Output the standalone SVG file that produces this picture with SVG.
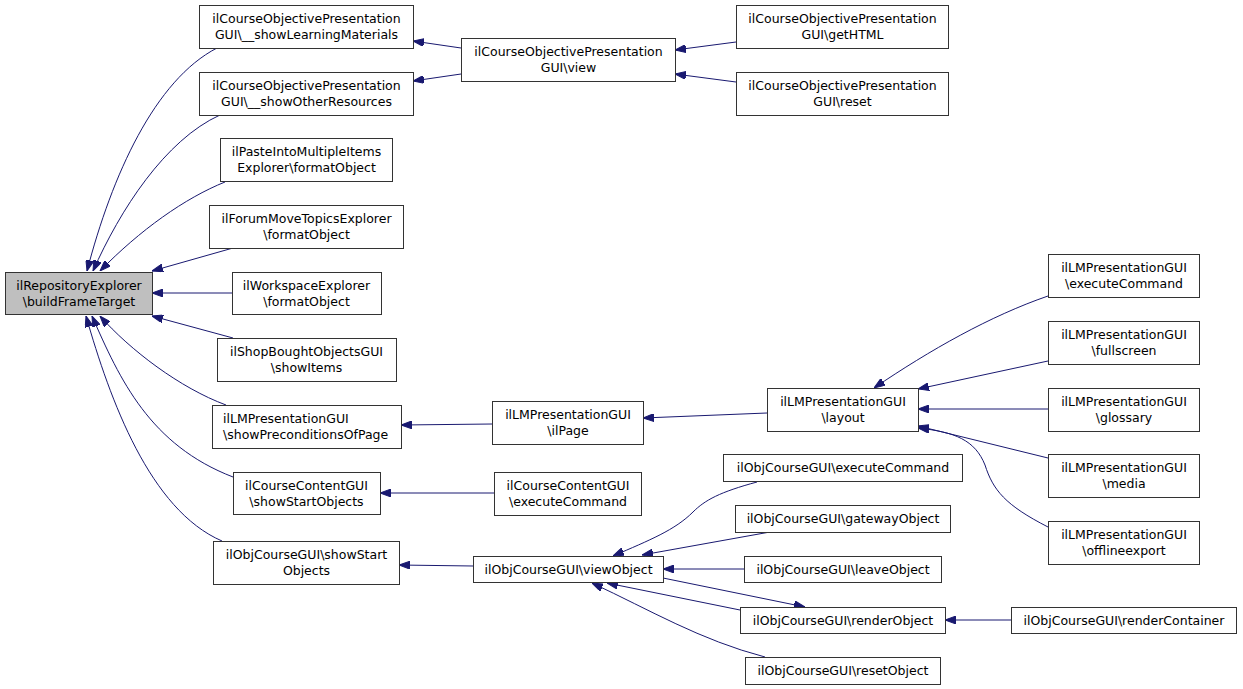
<svg xmlns="http://www.w3.org/2000/svg" width="1243" height="689" viewBox="0 0 1243 689">
<defs>
<style>
.n rect{fill:#fff;stroke:#333;stroke-width:1}
.n.main rect{fill:#bfbfbf}
.n text{font-family:"DejaVu Sans",sans-serif;font-size:12.5px;fill:#000;text-anchor:middle}
.n text.l{text-anchor:start}
#edges path{fill:none;stroke:#191970;stroke-width:1;marker-end:url(#ah)}
</style>
<marker id="ah" markerUnits="userSpaceOnUse" markerWidth="11" markerHeight="8" refX="11" refY="4" orient="auto">
<path d="M0,0 L11,4 L0,8 z" fill="#191970" stroke="#191970" stroke-width="1"/>
</marker>
</defs>
<rect width="1243" height="689" fill="#fff"/>
<g id="edges">
<path d="M217,48 C155,80 112,175 87,271"/>
<path d="M220,115 C165,140 120,210 93,271"/>
<path d="M225,182 C185,198 140,230 100,271"/>
<path d="M233,248 L152,271"/>
<path d="M232,293 L152,293"/>
<path d="M233,338 L152,316"/>
<path d="M226,405 C180,388 130,350 100,316"/>
<path d="M233,477 C150,445 120,380 92,316"/>
<path d="M222,541 C150,510 110,400 86,316"/>
<path d="M461,48 L413,41"/>
<path d="M461,74 L413,81"/>
<path d="M736,42 L675,50"/>
<path d="M736,82 L675,74"/>
<path d="M492,424 L401,425"/>
<path d="M767,413 L643,418"/>
<path d="M1048,296 C990,316 930,350 874,388"/>
<path d="M1048,361 L918,389"/>
<path d="M1048,409 L918,409"/>
<path d="M1048,458 L918,426"/>
<path d="M1048,527 C1005,505 993,490 985,465 C975,440 955,432 918,428"/>
<path d="M494,493 L380,493"/>
<path d="M473,566 L399,565"/>
<path d="M757,482 C720,492 705,500 693,512 C675,530 650,540 613,556"/>
<path d="M770,532 L642,555"/>
<path d="M744,569 L663,569"/>
<path d="M740,610 L607,583"/>
<path d="M663,578 L805,607"/>
<path d="M765,657 C700,640 650,610 592,583"/>
<path d="M1011,620 L945,620"/>
</g>
<g id="n_buildFrameTarget" class="n main"><rect x="5.5" y="272.5" width="147" height="42"/><text x="79" y="290">ilRepositoryExplorer</text><text x="79" y="306">\buildFrameTarget</text></g>
<g id="n_showLearningMaterials" class="n"><rect x="199.5" y="5.5" width="214" height="43"/><text x="306.5" y="23">ilCourseObjectivePresentation</text><text x="306.5" y="39">GUI\__showLearningMaterials</text></g>
<g id="n_showOtherResources" class="n"><rect x="199.5" y="72.5" width="214" height="43"/><text x="306.5" y="90">ilCourseObjectivePresentation</text><text x="306.5" y="106">GUI\__showOtherResources</text></g>
<g id="n_pasteFormat" class="n"><rect x="220.5" y="138.5" width="172" height="43"/><text x="306.5" y="156">ilPasteIntoMultipleItems</text><text x="306.5" y="172">Explorer\formatObject</text></g>
<g id="n_forumFormat" class="n"><rect x="209.5" y="205.5" width="194" height="43"/><text x="306.5" y="223">ilForumMoveTopicsExplorer</text><text x="306.5" y="239">\formatObject</text></g>
<g id="n_workspaceFormat" class="n"><rect x="232.5" y="272.5" width="149" height="42"/><text x="306.5" y="290">ilWorkspaceExplorer</text><text x="306.5" y="306">\formatObject</text></g>
<g id="n_shopShowItems" class="n"><rect x="217.5" y="338.5" width="179" height="43"/><text x="306.5" y="356">ilShopBoughtObjectsGUI</text><text x="306.5" y="372">\showItems</text></g>
<g id="n_showPreconditions" class="n"><rect x="212.5" y="405.5" width="189" height="43"/><text class="l" x="223" y="423">ilLMPresentationGUI</text><text class="l" x="223" y="439">\showPreconditionsOfPage</text></g>
<g id="n_ccShowStart" class="n"><rect x="233.5" y="472.5" width="147" height="42"/><text x="306.5" y="490">ilCourseContentGUI</text><text x="306.5" y="506">\showStartObjects</text></g>
<g id="n_ocShowStart" class="n"><rect x="213.5" y="541.5" width="186" height="43"/><text x="306.5" y="559">ilObjCourseGUI\showStart</text><text x="306.5" y="575">Objects</text></g>
<g id="n_copView" class="n"><rect x="461.5" y="38.5" width="214" height="43"/><text x="568.5" y="56">ilCourseObjectivePresentation</text><text x="568.5" y="72">GUI\view</text></g>
<g id="n_copGetHTML" class="n"><rect x="736.5" y="5.5" width="212" height="43"/><text x="842.5" y="23">ilCourseObjectivePresentation</text><text x="842.5" y="39">GUI\getHTML</text></g>
<g id="n_copReset" class="n"><rect x="736.5" y="72.5" width="212" height="43"/><text x="842.5" y="90">ilCourseObjectivePresentation</text><text x="842.5" y="106">GUI\reset</text></g>
<g id="n_lmIlPage" class="n"><rect x="492.5" y="401.5" width="151" height="43"/><text x="568" y="419">ilLMPresentationGUI</text><text x="568" y="435">\ilPage</text></g>
<g id="n_ccExecute" class="n"><rect x="494.5" y="472.5" width="147" height="43"/><text x="568" y="490">ilCourseContentGUI</text><text x="568" y="506">\executeCommand</text></g>
<g id="n_viewObject" class="n"><rect x="473.5" y="556.5" width="190" height="26"/><text x="568.5" y="574">ilObjCourseGUI\viewObject</text></g>
<g id="n_lmLayout" class="n"><rect x="767.5" y="388.5" width="151" height="43"/><text x="843" y="406">ilLMPresentationGUI</text><text x="843" y="422">\layout</text></g>
<g id="n_ocExecute" class="n"><rect x="723.5" y="454.5" width="239" height="27"/><text x="843" y="472">ilObjCourseGUI\executeCommand</text></g>
<g id="n_gateway" class="n"><rect x="735.5" y="505.5" width="215" height="27"/><text x="843" y="523">ilObjCourseGUI\gatewayObject</text></g>
<g id="n_leave" class="n"><rect x="744.5" y="556.5" width="197" height="26"/><text x="843" y="574">ilObjCourseGUI\leaveObject</text></g>
<g id="n_render" class="n"><rect x="740.5" y="607.5" width="205" height="26"/><text x="843" y="625">ilObjCourseGUI\renderObject</text></g>
<g id="n_reset" class="n"><rect x="745.5" y="657.5" width="195" height="27"/><text x="843" y="675">ilObjCourseGUI\resetObject</text></g>
<g id="n_lmExecute" class="n"><rect x="1048.5" y="254.5" width="151" height="43"/><text x="1124" y="272">ilLMPresentationGUI</text><text x="1124" y="288">\executeCommand</text></g>
<g id="n_lmFullscreen" class="n"><rect x="1048.5" y="321.5" width="151" height="43"/><text x="1124" y="339">ilLMPresentationGUI</text><text x="1124" y="355">\fullscreen</text></g>
<g id="n_lmGlossary" class="n"><rect x="1048.5" y="388.5" width="151" height="43"/><text x="1124" y="406">ilLMPresentationGUI</text><text x="1124" y="422">\glossary</text></g>
<g id="n_lmMedia" class="n"><rect x="1048.5" y="454.5" width="151" height="43"/><text x="1124" y="472">ilLMPresentationGUI</text><text x="1124" y="488">\media</text></g>
<g id="n_lmOffline" class="n"><rect x="1048.5" y="521.5" width="151" height="43"/><text x="1124" y="539">ilLMPresentationGUI</text><text x="1124" y="555">\offlineexport</text></g>
<g id="n_renderContainer" class="n"><rect x="1011.5" y="607.5" width="225" height="26"/><text x="1124" y="625">ilObjCourseGUI\renderContainer</text></g>
</svg>
